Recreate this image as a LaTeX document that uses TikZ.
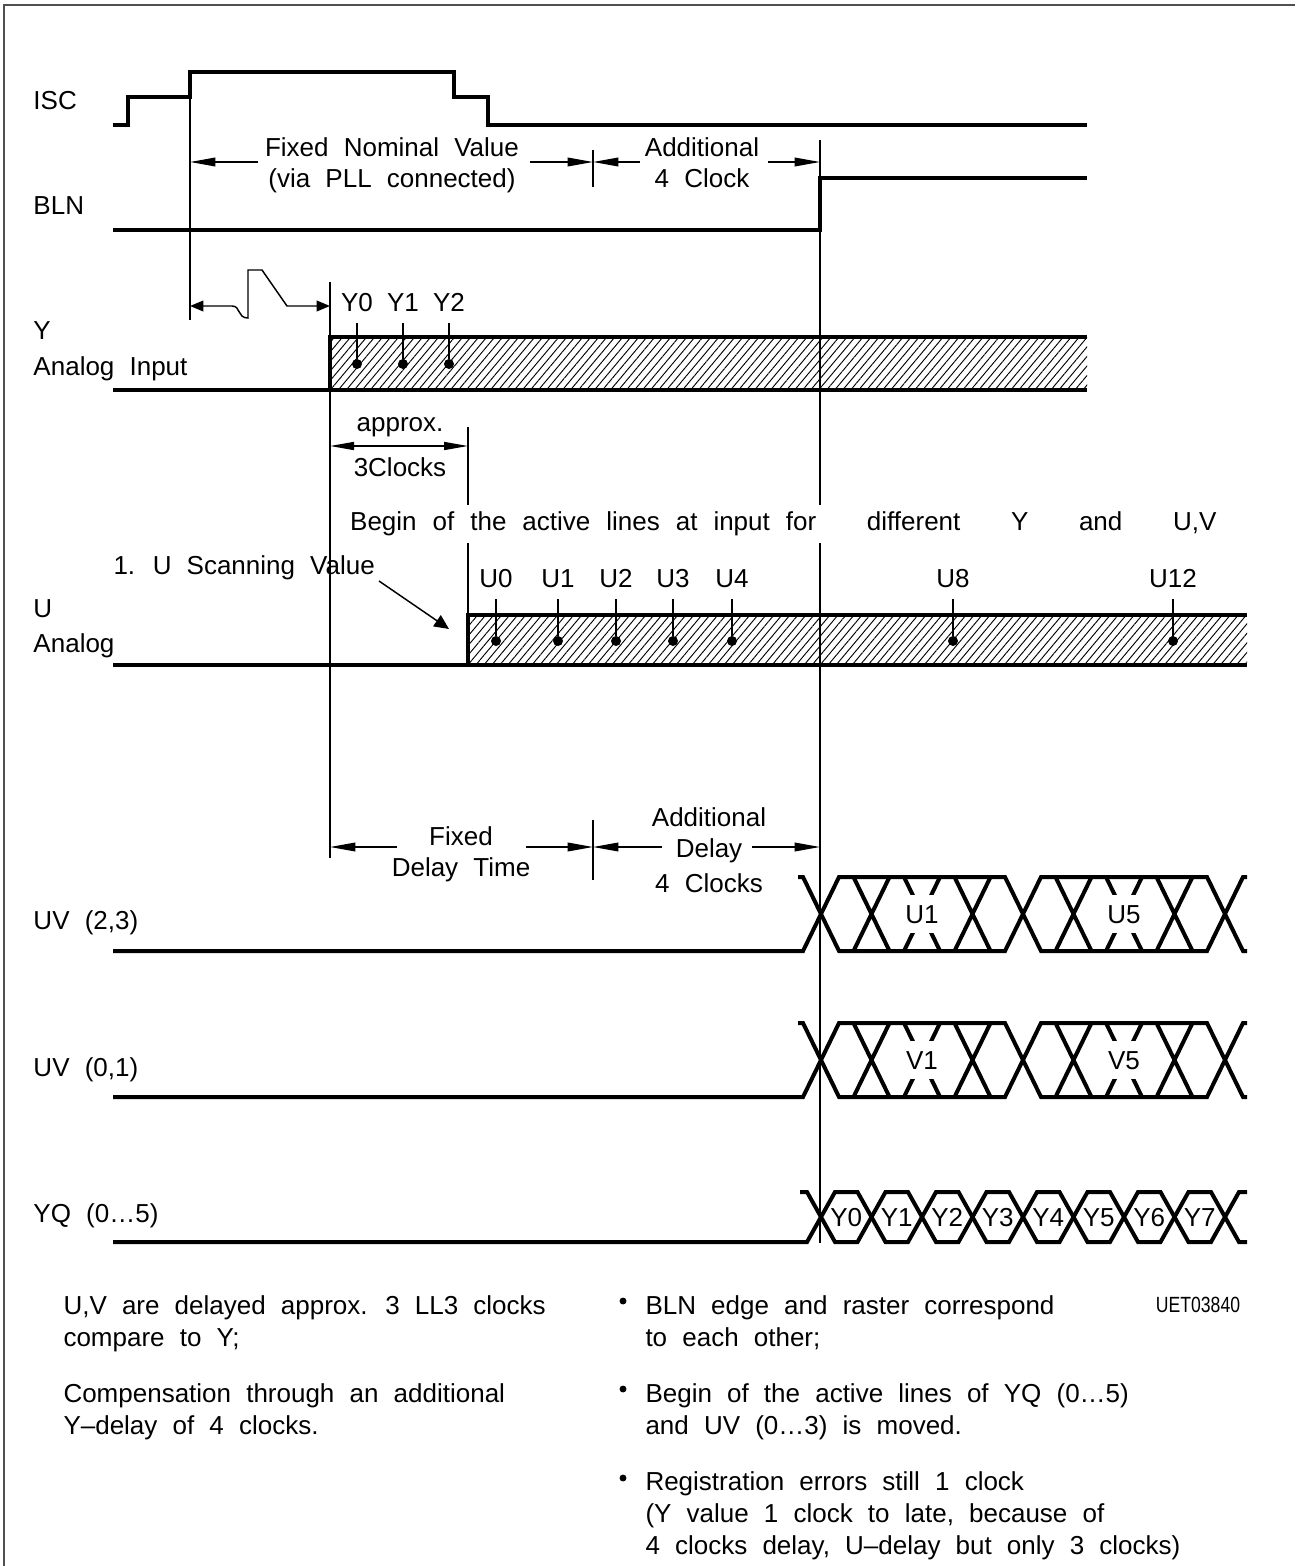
\documentclass[tikz,border=0pt]{standalone}
\usepackage{fontspec}
\setmainfont{Liberation Sans}[WordSpace=2.1]
\newfontfamily\codefont{Liberation Sans}[FakeStretch=0.8]
\usetikzlibrary{arrows.meta,patterns.meta}

\tikzset{every picture/.style={line width=0.75pt}}
\tikzset{
  wave/.style={line width=3pt},
  guide/.style={line width=1.1pt},
  dimarr/.style={line width=1.1pt,-{Triangle[length=19pt,width=6.5pt]}},
  dimboth/.style={line width=1.1pt,{Triangle[length=18pt,width=6pt]}-{Triangle[length=18pt,width=6pt]}},
  txt/.style={inner sep=0pt,font=\fontsize{19.5}{23.25}\selectfont},
  lab/.style={txt,anchor=base},
  sigtxt/.style={txt,anchor=base west},
  notetxt/.style={inner sep=0pt,font=\fontsize{19.5}{24}\selectfont,align=left,anchor=north west},
  hatched/.style={pattern={Lines[angle=50,distance=4.6pt,line width=0.7pt]}},
  sample/.style={circle,fill,inner sep=0pt,minimum size=7.5pt},
  bullet/.style={circle,fill,inner sep=0pt,minimum size=5.2pt},
}

\begin{document}
\begin{tikzpicture}[x=0.75pt,y=0.75pt,yscale=-1,xscale=1]
\useasboundingbox (0,0) rectangle (1295,1566);

%Frame
\draw [line width=1.5pt,color={rgb, 255:red, 80; green, 80; blue, 80}] (4,1566) -- (4,5) -- (1295,5) ;

%Hatched areas
\fill [hatched] (330,337) rectangle (1087,390) ;
\fill [hatched] (468,615) rectangle (1247,665) ;

%Guide lines
\draw [guide] (190,97) -- (190,320) ;
\draw [guide] (330,282) -- (330,858) ;
\draw [guide] (468,427) -- (468,615) ;
\draw [guide] (820,140) -- (820,1243) ;
\draw [guide] (593,150) -- (593,187) ;
\draw [guide] (593,820) -- (593,880) ;

%ISC
\draw [wave] (113,125) -- (128,125) -- (128,97) -- (190,97) -- (190,72) -- (454,72) -- (454,97) -- (488,97) -- (488,125) -- (1087,125) ;
%BLN
\draw [wave] (113,230) -- (820,230) -- (820,178) -- (1087,178) ;
%Y analog input
\draw [wave] (113,390) -- (330,390) -- (330,337) -- (1087,337) ;
\draw [wave] (330,390) -- (1087,390) ;
%U analog
\draw [wave] (113,665) -- (468,665) -- (468,615) -- (1247,615) ;
\draw [wave] (468,665) -- (1247,665) ;

%UV buses
\foreach \yt/\yb/\la/\lb/\nm in {877/951/U1/U5/uv, 1023/1097/V1/V5/vv} {
  \draw [wave] (113,\yb) -- (803,\yb) -- (839,\yt) -- (1005,\yt) -- (1041,\yb) -- (1207,\yb) -- (1243,\yt) -- (1247,\yt) ;
  \draw [wave] (798,\yt) -- (803,\yt) -- (839,\yb) -- (1005,\yb) -- (1041,\yt) -- (1207,\yt) -- (1243,\yb) -- (1247,\yb) ;
  \foreach \c in {871.5,922,972.5,1073.5,1124,1174.5}
    \draw [wave] (\c-18,\yt) -- (\c+18,\yb) (\c-18,\yb) -- (\c+18,\yt) ;
  \fill [white] (909,{(\yt+\yb)/2-19}) rectangle (935,{(\yt+\yb)/2+19}) ;
  \fill [white] (1111,{(\yt+\yb)/2-19}) rectangle (1137,{(\yt+\yb)/2+19}) ;
  \node [lab] (\nm1) at (922,{(\yt+\yb)/2+9.5}) {\la};
  \node [lab] (\nm5) at (1124,{(\yt+\yb)/2+9.5}) {\lb};
}

%YQ bus
\draw [wave] (113,1242) -- (807,1242) -- (821,1217) ;
\draw [wave] (800,1192) -- (807,1192) -- (821,1217) ;
\foreach \k in {0,...,7} {
  \pgfmathsetmacro\ca{821+50.5*\k}
  \pgfmathsetmacro\cb{\ca+50.5}
  \draw [wave] (\ca,1217) -- (\ca+14,1192) -- (\cb-14,1192) -- (\cb,1217) -- (\cb-14,1242) -- (\ca+14,1242) -- cycle ;
  \node [lab] (yq\k) at (\ca+25.25,1226.5) {Y\k};
}
\draw [wave] (1225,1217) -- (1239,1192) -- (1247,1192) ;
\draw [wave] (1225,1217) -- (1239,1242) -- (1247,1242) ;

%Samples Y
\foreach \n/\x in {0/357,1/403,2/449} {
  \node [lab] (y\n) at (\x,311.5) {Y\n};
  \node [sample] (ys\n) at (\x,364) {};
  \draw [guide] (\x,323) -- (ys\n) ;
}
%Samples U
\foreach \n/\x in {0/496,1/558,2/616,3/673,4/732,8/953,12/1173} {
  \node [lab] (u\n) at (\x,587.5) {U\n};
  \node [sample] (us\n) at (\x,641) {};
  \draw [guide] (\x,599) -- (us\n) ;
}

% Signal names
\node [sigtxt] (isc) at (33,109.5) {ISC};
\node [sigtxt] (bln) at (33,214.5) {BLN};
\node [sigtxt] (yname) at (33,339.5) {Y};
\node [sigtxt] (yin) at (33,375.5) {Analog Input};
\node [sigtxt] (uname) at (33,617.5) {U};
\node [sigtxt] (uin) at (33,652.5) {Analog};
\node [sigtxt] (uv23) at (33,929.5) {UV (2,3)};
\node [sigtxt] (uv01) at (33,1076.5) {UV (0,1)};
\node [sigtxt] (yq) at (33,1222.5) {YQ (0…5)};

% Dimension texts
\node [txt,align=center,anchor=north] (fixnom) at (392,137.5) {Fixed Nominal Value\\(via PLL connected)};
\node [txt,align=center,anchor=north] (addclk) at (702,137.5) {Additional\\4 Clock};
\node [lab] (approx) at (400,431.5) {approx.};
\node [lab] (threeclk) at (400,476.5) {3Clocks};
\node [txt,fill=white,inner ysep=5pt,inner xsep=2pt,anchor=base west] (begin) at (347,530.5) {\spaceskip=12pt\relax Begin of the active lines at input for\hspace{38pt}different\hspace{38pt}Y\hspace{38pt}and\hspace{38pt}U,V};
\node [sigtxt] (uscan) at (113,574.5) {1. U Scanning Value};
\node [txt,align=center,anchor=north] (fixdel) at (461,826.5) {Fixed\\Delay Time};
\node [txt,align=center,anchor=north] (adddel) at (709,807.5) {Additional\\Delay\\[3pt]4 Clocks};

% Dimension arrows
\coordinate (fnL) at (190,162); \coordinate (fnA) at (258,162);
\coordinate (fnB) at (530,162); \coordinate (fnR) at (593,162);
\coordinate (acL) at (593,162); \coordinate (acA) at (640,162);
\coordinate (acB) at (768,162); \coordinate (acR) at (820,162);
\draw [dimarr] (fnA) -- (fnL) ;
\draw [dimarr] (fnB) -- (fnR) ;
\draw [dimarr] (acA) -- (acL) ;
\draw [dimarr] (acB) -- (acR) ;
\coordinate (apL) at (330,446); \coordinate (apR) at (468,446);
\draw [dimboth] (apL) -- (apR) ;
\coordinate (fdL) at (330,847); \coordinate (fdA) at (397,847);
\coordinate (fdB) at (526,847); \coordinate (fdR) at (593,847);
\coordinate (adL) at (593,847); \coordinate (adA) at (662,847);
\coordinate (adB) at (752,847); \coordinate (adR) at (820,847);
\draw [dimarr] (fdA) -- (fdL) ;
\draw [dimarr] (fdB) -- (fdR) ;
\draw [dimarr] (adA) -- (adL) ;
\draw [dimarr] (adB) -- (adR) ;

%Settling path Y
\coordinate (stL) at (190,306); \coordinate (stR) at (330,306);
\draw [guide,{Triangle[length=10pt,width=8pt]}-{Triangle[length=10pt,width=8pt]}] (stL) -- (232,306) .. controls (241,306) and (237,318) .. (248,318) -- (248,270) -- (262,270) -- (287,306) -- (stR) ;

%Scanning arrow
\coordinate (scA) at (379,581); \coordinate (scB) at (449,629);
\draw [guide,-{Triangle[length=11pt,width=10pt]}] (scA) -- (scB) ;

% Notes
\node [notetxt] (noteA) at (63,1295) {U,V are delayed approx. 3 LL3 clocks\\compare to Y;};
\node [notetxt] (noteB) at (63,1383) {Compensation through an additional\\Y--delay of 4 clocks.};
\node [bullet] (dotA) at (623,1301) {};
\node [notetxt] (noteC) at (645,1295) {BLN edge and raster correspond\\to each other;};
\node [bullet] (dotB) at (623,1389) {};
\node [notetxt] (noteD) at (645,1383) {Begin of the active lines of YQ (0…5)\\and UV (0…3) is moved.};
\node [bullet] (dotC) at (623,1478) {};
\node [notetxt] (noteE) at (645,1471) {Registration errors still 1 clock\\(Y value 1 clock to late, because of\\4 clocks delay, U--delay but only 3 clocks)};
\node [inner sep=0pt,font=\codefont\fontsize{16.5}{18}\selectfont] (code) at (1198,1305) {UET03840};

\end{tikzpicture}
\end{document}
